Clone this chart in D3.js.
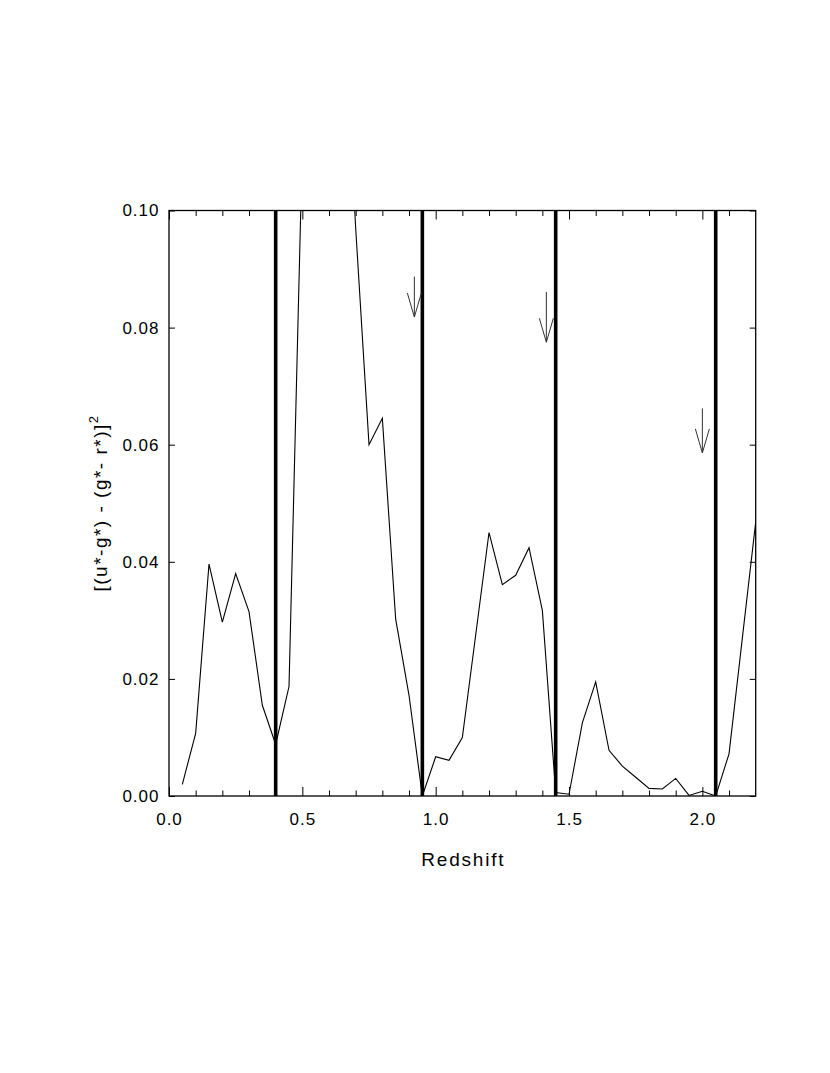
<!DOCTYPE html>
<html>
<head>
<meta charset="utf-8">
<script src="https://cdn.jsdelivr.net/npm/d3@7"></script>
<style>
  html, body { margin: 0; padding: 0; background: #fff; }
  svg { display: block; }
  text { font-family: Arial, "Liberation Sans", Helvetica, sans-serif; fill: #000; }
</style>
</head>
<body>
<svg id="chart" width="830" height="1073"></svg>
<script>
// ---- data ----
const redshift = [0.05,0.10,0.15,0.20,0.25,0.30,0.35,0.40,0.45,0.50,0.55,0.60,0.65,0.70,0.75,0.80,0.85,0.90,0.95,1.00,
                  1.05,1.10,1.15,1.20,1.25,1.30,1.35,1.40,1.45,1.50,1.55,1.60,1.65,1.70,1.75,1.80,1.85,1.90,1.95,2.00,
                  2.05,2.10,2.15,2.20];
const colourDiff = [0.0020,0.0107,0.0396,0.0297,0.0380,0.0315,0.0155,0.0088,0.0187,0.111,0.150,0.170,0.140,0.097,0.0600,0.0645,0.0302,0.0172,0.0000,0.0067,
                    0.0061,0.0100,0.0275,0.0450,0.0361,0.0377,0.0424,0.0317,0.0006,0.0003,0.0125,0.0195,0.0078,0.0051,0.0032,0.0013,0.0012,0.0030,0.0001,0.0008,
                    0.0000,0.0072,0.0270,0.0468];
const boundaries = [0.40, 0.95, 1.45, 2.05];
const arrowX = [0.92, 1.415, 2.00];
const arrowTop = [0.0887, 0.0861, 0.0662];
const arrowTip = [0.0818, 0.0775, 0.0586];
const xMajorTicks = [0.0, 0.5, 1.0, 1.5, 2.0];
const xMinorTicks = [0.1,0.2,0.3,0.4,0.6,0.7,0.8,0.9,1.1,1.2,1.3,1.4,1.6,1.7,1.8,1.9,2.1];
const yTicks = [0.00, 0.02, 0.04, 0.06, 0.08, 0.10];

// ---- layout ----
const svg = d3.select("#chart");
const L = 169, R = 755.7, T = 210.5, B = 796;
const x = d3.scaleLinear().domain([0, 2.2]).range([L, R]);
const y = d3.scaleLinear().domain([0, 0.10]).range([B, T]);

svg.append("defs").append("clipPath").attr("id", "plotclip")
  .append("rect").attr("x", L).attr("y", T).attr("width", R - L).attr("height", B - T);

// data line
const line = d3.line().x((d, i) => x(redshift[i])).y(d => y(d));
svg.append("path")
  .datum(colourDiff)
  .attr("clip-path", "url(#plotclip)")
  .attr("fill", "none")
  .attr("stroke", "#000")
  .attr("stroke-width", 1.1)
  .attr("stroke-linejoin", "miter")
  .attr("d", line);

// thick vertical boundaries
svg.selectAll("line.bound").data(boundaries).enter().append("line")
  .attr("class", "bound")
  .attr("x1", d => x(d)).attr("x2", d => x(d))
  .attr("y1", y(0)).attr("y2", y(0.10))
  .attr("stroke", "#000").attr("stroke-width", 3.6);

// arrows
const headW = 7, headH = 24;
arrowX.forEach((ax, i) => {
  const px = x(ax), top = y(arrowTop[i]), tip = y(arrowTip[i]);
  const g = svg.append("g").attr("fill", "none").attr("stroke", "#333").attr("stroke-width", 1);
  g.append("line").attr("x1", px).attr("x2", px).attr("y1", top).attr("y2", tip);
  g.append("path").attr("d", d3.line()([[px - headW, tip - headH], [px, tip], [px + headW, tip - headH]]));
});

// axes
const fontTick = "17px";
const xBottom = d3.axisBottom(x).tickValues(xMajorTicks).tickFormat(d3.format(".1f")).tickSize(-9).tickPadding(17);
const xBottomMinor = d3.axisBottom(x).tickValues(xMinorTicks).tickFormat("").tickSize(-5.5);
const xTop = d3.axisTop(x).tickValues(xMajorTicks).tickFormat("").tickSize(-9);
const xTopMinor = d3.axisTop(x).tickValues(xMinorTicks).tickFormat("").tickSize(-5.5);
const yLeft = d3.axisLeft(y).tickValues(yTicks).tickFormat(d3.format(".2f")).tickSize(-6).tickPadding(9.5);
const yRight = d3.axisRight(y).tickValues(yTicks).tickFormat("").tickSize(-6);

function style(g) {
  g.select(".domain").remove();
  g.selectAll(".tick line").attr("stroke", "#000").attr("stroke-width", 1);
  g.selectAll("text").attr("font-size", fontTick).attr("letter-spacing", "1px")
    .attr("font-family", "Arial, 'Liberation Sans', sans-serif").attr("fill", "#000");
}
svg.append("g").attr("transform", `translate(0,${B})`).call(xBottom).call(style);
svg.append("g").attr("transform", `translate(0,${B})`).call(xBottomMinor).call(style);
svg.append("g").attr("transform", `translate(0,${T})`).call(xTop).call(style);
svg.append("g").attr("transform", `translate(0,${T})`).call(xTopMinor).call(style);
svg.append("g").attr("transform", `translate(${L},0)`).call(yLeft).call(style);
svg.append("g").attr("transform", `translate(${R},0)`).call(yRight).call(style);

// frame
svg.append("rect").attr("x", L).attr("y", T).attr("width", R - L).attr("height", B - T)
  .attr("fill", "none").attr("stroke", "#000").attr("stroke-width", 1.3);

// axis titles
svg.append("text")
  .attr("x", (L + R) / 2 + 1).attr("y", 866)
  .attr("text-anchor", "middle")
  .attr("font-size", "19px").attr("letter-spacing", "1.8px")
  .text("Redshift");

const yt = svg.append("text")
  .attr("transform", `translate(107,503) rotate(-90)`)
  .attr("text-anchor", "middle")
  .attr("font-size", "19px").attr("letter-spacing", "1.5px");
yt.append("tspan").text("[(u*-g*) - (g*- r*)]");
yt.append("tspan").attr("font-size", "13px").attr("dy", "-9").text("2");
</script>
</body>
</html>
